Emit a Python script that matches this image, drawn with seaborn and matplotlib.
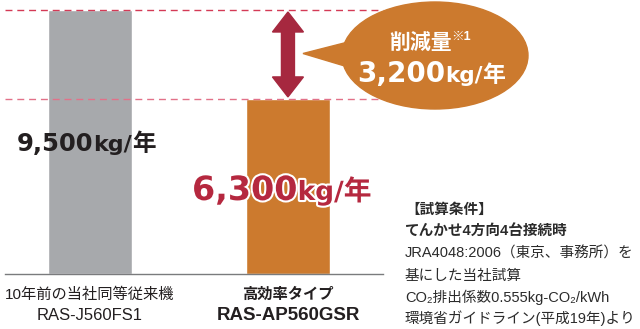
import matplotlib
matplotlib.use("Agg")
import matplotlib.pyplot as plt
import matplotlib.patheffects as pe
from matplotlib.patches import Ellipse, Polygon
from matplotlib.transforms import Affine2D
import pandas as pd
import seaborn as sns

# ---- data -------------------------------------------------------------
categories = ["10年前の当社同等従来機", "高効率タイプ"]
models = ["RAS-J560FS1", "RAS-AP560GSR"]
emissions = [9500, 6300]          # kg-CO2 / year
bar_colors = ["#a7a9ac", "#cc7a2e"]
notes = [
    "【試算条件】",
    "てんかせ4方向4台接続時",
    "JRA4048:2006（東京、事務所）を",
    "基にした当社試算",
    "CO₂排出係数0.555kg-CO₂/kWh",
    "環境省ガイドライン(平成19年)より",
]
reduction = emissions[0] - emissions[1]

# ---- style ------------------------------------------------------------
sns.set_theme(style="white")
JP = ["Liberation Sans", "Noto Sans CJK JP", "DejaVu Sans"]
NUM = ["DejaVu Sans", "Noto Sans CJK JP"]
CJK = ["Noto Sans CJK JP", "DejaVu Sans"]
plt.rcParams["font.family"] = JP

DARK = "#231f20"
RED = "#b5283f"
ARROW = "#a6283f"
ORANGE = "#cc7a2e"

W, H = 640, 329
fig = plt.figure(figsize=(W / 100, H / 100), dpi=100)
# pixel coordinates measured from the top-left corner of the figure
pix = Affine2D().scale(1 / W, -1 / H).translate(0, 1) + fig.transFigure

ax_left, ax_right, ax_top, ax_base = 5, 383, 10, 274
ax = fig.add_axes([ax_left / W, (H - ax_base) / H,
                   (ax_right - ax_left) / W, (ax_base - ax_top) / H])

df = pd.DataFrame({"category": categories, "emissions": emissions})
sns.barplot(data=df, x="category", y="emissions", hue="category",
            palette=bar_colors, width=0.424, saturation=1, legend=False,
            ax=ax, zorder=2)

ax.set_xlim(-0.429, 1.480)
ax.set_ylim(0, emissions[0])
ax.set_xticks([])
ax.set_yticks([])
ax.set_xlabel("")
ax.set_ylabel("")
for side in ("top", "left", "right"):
    ax.spines[side].set_visible(False)
ax.spines["bottom"].set_color("#7a7b7d")
ax.spines["bottom"].set_linewidth(1.0)
ax.patch.set_alpha(0)

# reference lines at both levels
ax.axhline(emissions[0], color="#d43a56", lw=1.0, ls=(0, (5, 3.5)), zorder=3,
           clip_on=False)
ax.axhline(emissions[1], color="#e27189", lw=1.0, ls=(0, (5, 3.5)), zorder=3,
           clip_on=False)

# double-headed arrow spanning the reduction, built in data units
fig.canvas.draw()
renderer = fig.canvas.get_renderer()
bbox = ax.get_window_extent(renderer)
px_x = (ax.get_xlim()[1] - ax.get_xlim()[0]) / bbox.width
px_y = (ax.get_ylim()[1] - ax.get_ylim()[0]) / bbox.height
cx = 1
top = emissions[0] - 2 * px_y
bot = emissions[1] + 2 * px_y
hw, sw, hl = 15.5 * px_x, 6.5 * px_x, 20 * px_y
arrow = Polygon([
    (cx, top), (cx + hw, top - hl), (cx + sw, top - hl),
    (cx + sw, bot + hl), (cx + hw, bot + hl), (cx, bot),
    (cx - hw, bot + hl), (cx - sw, bot + hl), (cx - sw, top - hl),
    (cx - hw, top - hl)], closed=True, color=ARROW, zorder=4, clip_on=False)
ax.add_patch(arrow)

# speech bubble
bubble = Ellipse((435, 55.5), 186, 107, transform=pix, color=ORANGE, zorder=5)
pointer = Polygon([(303, 53.5), (348, 42), (348, 67)], closed=True,
                  transform=pix, color=ORANGE, zorder=5)
fig.add_artist(pointer)
fig.add_artist(bubble)


def text_run(pieces, x, y, color, stroke=None):
    """Draw consecutive text pieces sharing one baseline (pixel coords)."""
    for s, size, fam, dy in pieces:
        kw = {}
        if stroke:
            kw["path_effects"] = [pe.withStroke(linewidth=stroke, foreground="white")]
        t = fig.text(x, y + dy, s, transform=pix, fontsize=size, family=fam,
                     fontweight="bold", color=color, ha="left", va="baseline",
                     zorder=8, **kw)
        x += t.get_window_extent(renderer).width


text_run([(f"{emissions[0]:,}", 17.5, NUM, 0), ("kg/", 16, NUM, 0),
          ("年", 17, CJK, 0)], 17, 151, DARK)
text_run([(f"{emissions[1]:,}", 24, NUM, 0), ("kg/", 19, NUM, 0),
          ("年", 20, CJK, 0)], 192, 200, RED, stroke=3)
text_run([("削減量", 15, CJK, 0), ("※1", 9, JP, -9)], 389, 49, "white")
text_run([(f"{reduction:,}", 20, NUM, 0), ("kg/", 15.5, NUM, 0),
          ("年", 16.5, CJK, 0)], 357, 82, "white")

# category labels below the baseline
xt = ax.get_xaxis_transform()
dy1 = -21 / bbox.height
dy2 = -42 / bbox.height
ax.text(0, dy1, categories[0], transform=xt, ha="center", va="center",
        fontsize=11, color=DARK, family=JP)
ax.text(0, dy2, models[0], transform=xt, ha="center", va="center",
        fontsize=12, color=DARK, family=JP)
ax.text(1, dy1, categories[1], transform=xt, ha="center", va="center",
        fontsize=11, fontweight="bold", color=DARK, family=JP)
ax.text(1, dy2, models[1], transform=xt, ha="center", va="center",
        fontsize=13.5, fontweight="bold", color=DARK, family=JP)

# calculation conditions
note_y = [210, 232, 254, 276, 297, 318]
for i, (line, yy) in enumerate(zip(notes, note_y)):
    fig.text(405, yy, line, transform=pix, ha="left", va="center",
             fontsize=10.5, color="#2b2b2b", family=JP,
             fontweight="bold" if i < 2 else "normal")

fig.savefig("out.png", dpi=100)
